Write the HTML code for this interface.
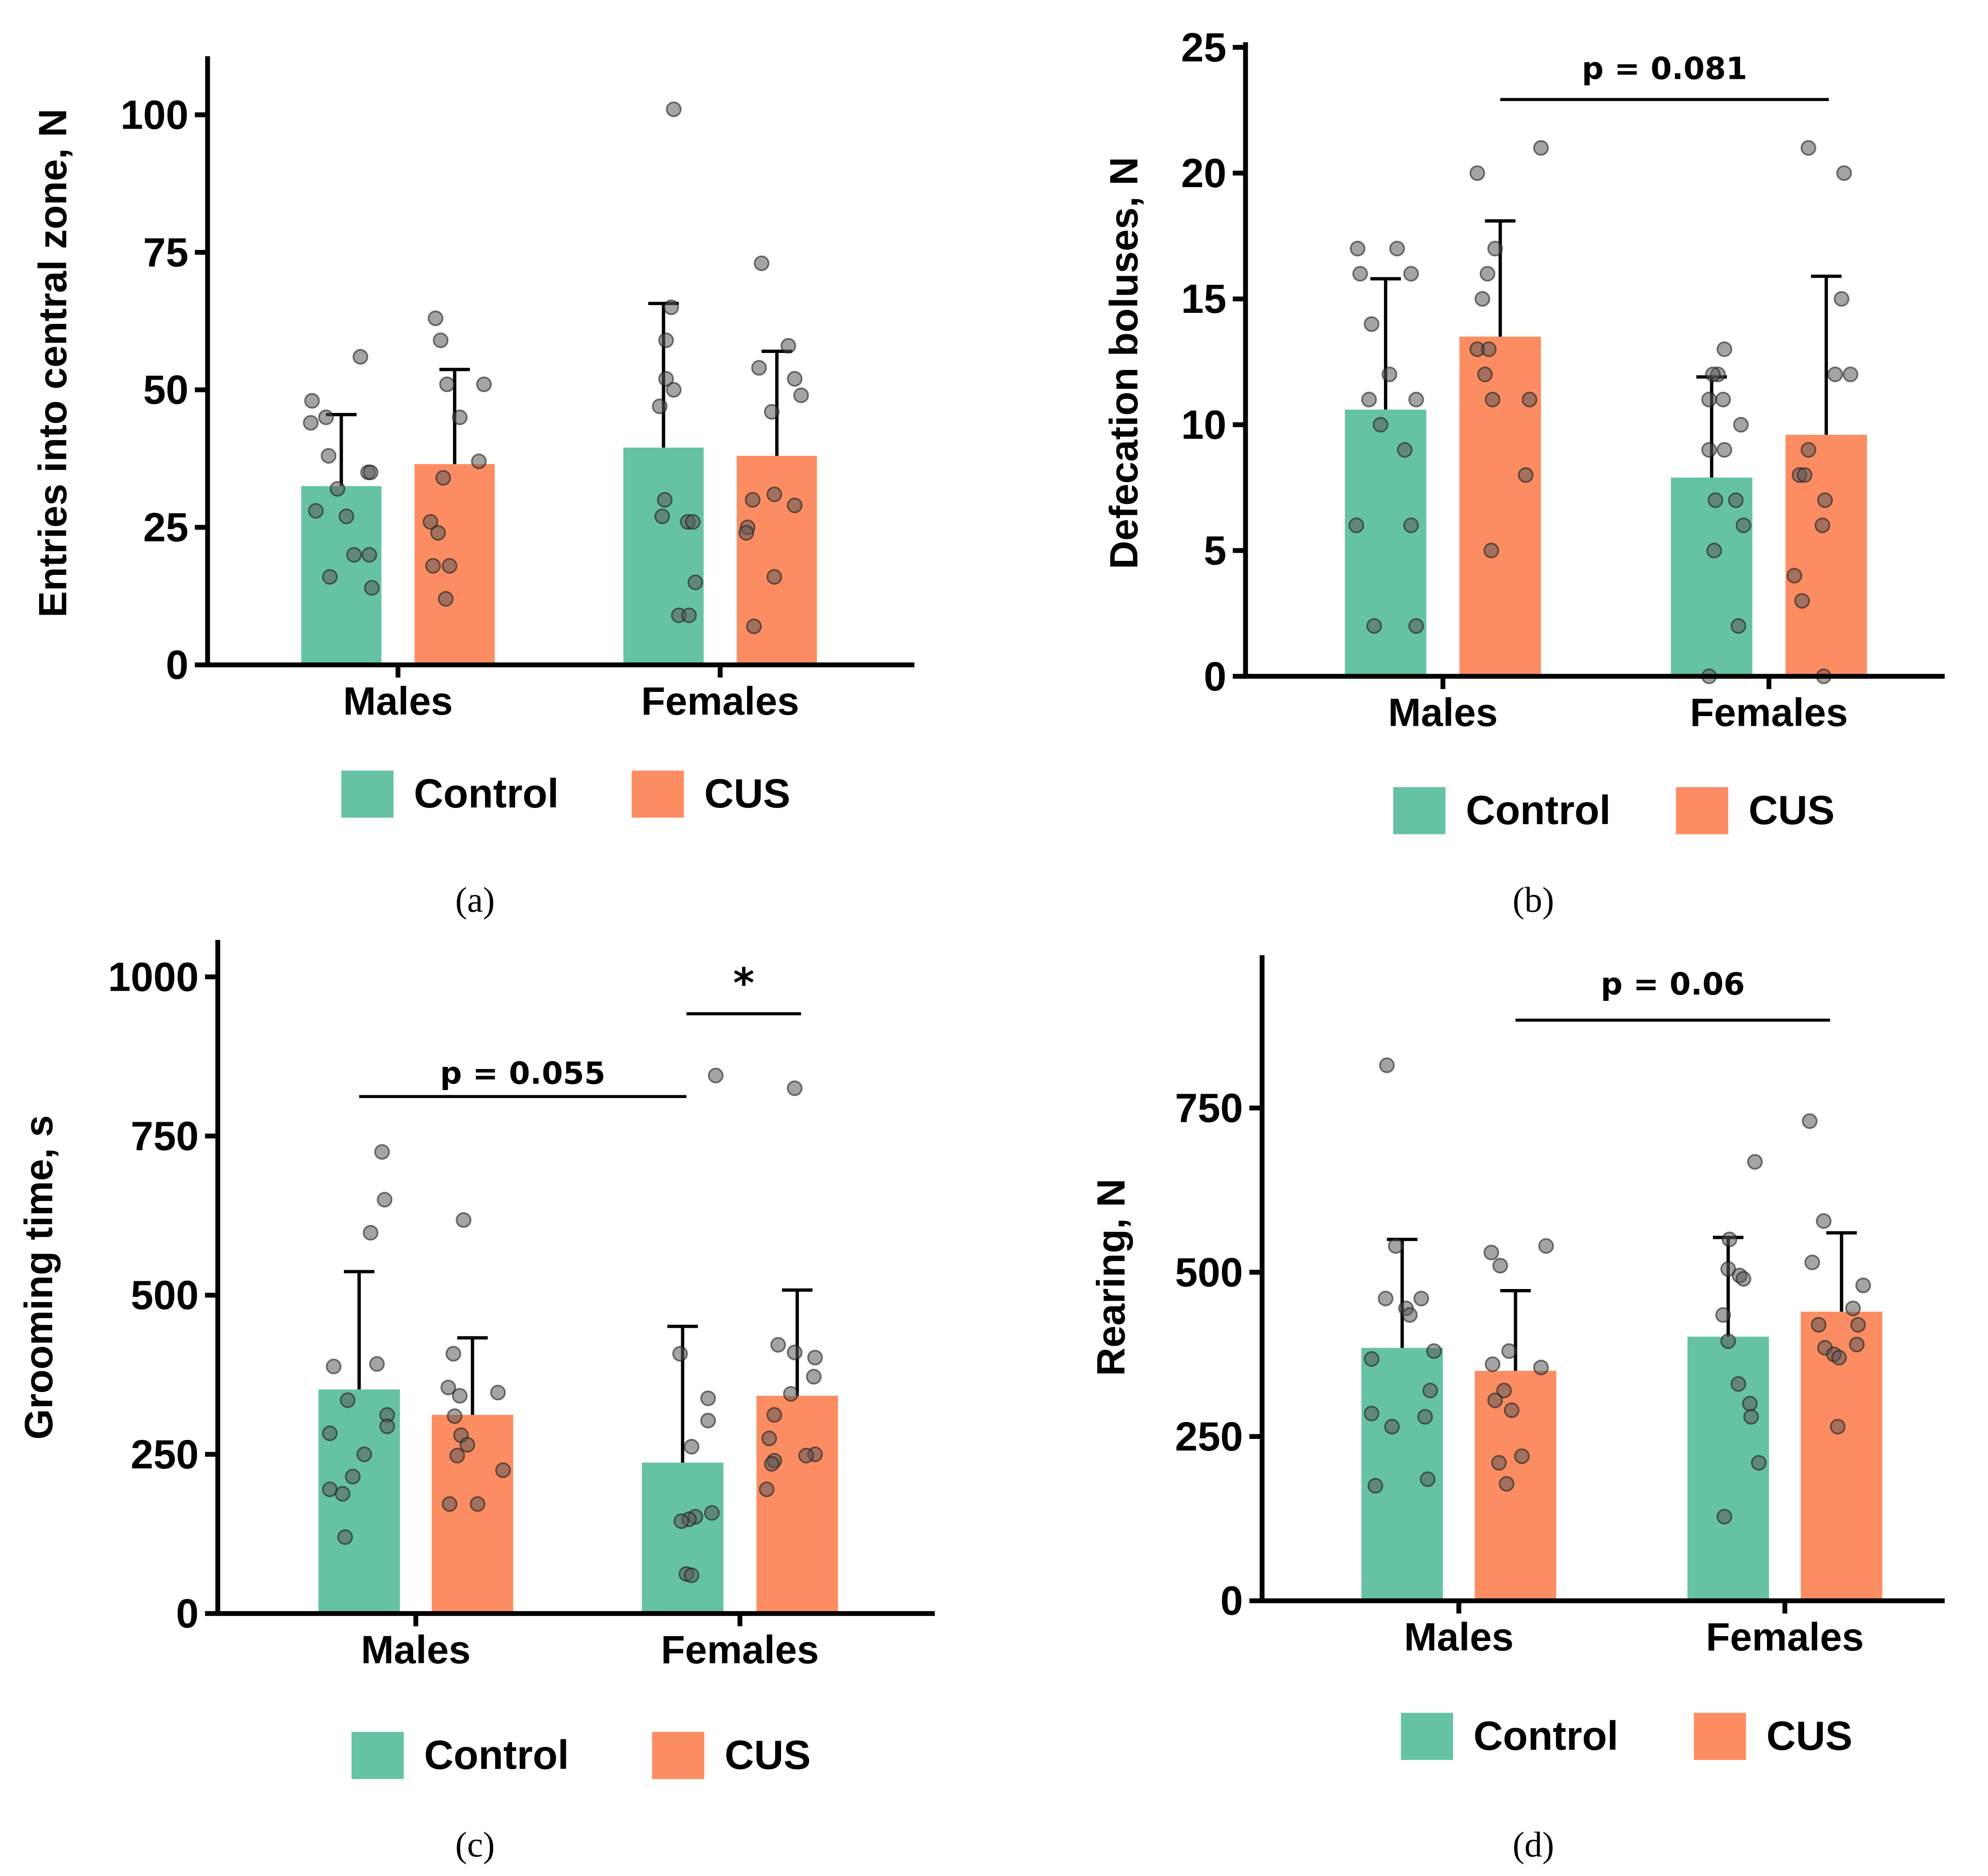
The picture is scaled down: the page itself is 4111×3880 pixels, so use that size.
<!DOCTYPE html>
<html><head><meta charset="utf-8"><style>
html,body{margin:0;padding:0;background:#fff}
svg{display:block}
text{font-family:"Liberation Sans",Arial,sans-serif;font-weight:bold;fill:#000}
.cap{font-family:"Liberation Serif",serif;font-weight:normal}
</style></head><body>
<svg id="chart" width="4111" height="3880" viewBox="0 0 1561 1473" xmlns="http://www.w3.org/2000/svg"></svg>
<script>
// ---- data ----
const groups = ["Males","Females"];
const seriesNames = ["Control","CUS"];
// panel a
const aMeans = [[32.5,36.5],[39.5,38]];
const aErr = [[45.5,53.7],[65.7,57]];
const aTicks = [0,25,50,75,100];
const aPts = [
 [[48,44,45,38,32,28,27,20,20,16,14,56,35,35],[63,59,51,51,45,37,34,26,24,18,18,12]],
 [[101,65,59,52,50,47,30,27,26,26,15,9,9],[73,58,54,52,46,49,30,31,29,25,24,16,7]]];
const aJit = [
 [[-23,-24,-12,-10,-3,-20,4,10,22,-9,24,15,21,23],[-15,-11,-6,23,4,19,-9,-19,-13,-17,-4,-7]],
 [[8,6,2,2,8,-3,1,-1,19,23,25,12,20],[-12,9,-14,14,-4,19,-19,-2,14,-23,-24,-2,-18]]];
// panel b
const bMeans = [[10.6,13.5],[7.9,9.6]];
const bErr = [[15.8,18.1],[11.9,15.9]];
const bTicks = [0,5,10,15,20,25];
const bPts = [
 [[17,17,16,16,14,12,11,11,10,9,6,6,2,2],[21,20,17,16,15,13,13,12,11,11,8,5]],
 [[13,12,12,11,11,10,9,9,7,7,6,5,2,0],[21,20,15,12,12,9,8,8,7,6,4,3,0]]];
const bJit = [
 [[-22,9,-20,20,-11,3,-13,24,-4,15,-23,20,-9,24],[32,-18,-4,-10,-14,-18,-9,-12,-6,23,20,-7]],
 [[10,5,1,9,-2,23,-2,10,3,19,25,2,21,-2],[-14,14,12,7,19,-14,-21,-17,-1,-3,-25,-19,-2]]];
// panel c
const cMeans = [[352,312],[237,342]];
const cErr = [[537,433],[451,508]];
const cTicks = [0,250,500,750,1000];
const cPts = [
 [[725,650,598,388,392,335,312,294,283,250,215,195,188,120],[618,408,355,342,347,310,280,265,248,225,172,172]],
 [[845,408,338,303,262,158,152,148,145,62,60],[825,422,410,402,372,345,312,275,250,248,240,235,195]]];
const cJit = [
 [[18,20,9,-20,14,-9,22,22,-23,4,-5,-23,-13,-11],[-7,-15,-19,-10,20,-14,-9,-4,-12,24,-18,4]],
 [[26,-2,20,20,7,23,10,5,-1,3,7],[-2,-15,-2,14,13,-5,-18,-22,14,7,-18,-20,-24]]];
// panel d
const dMeans = [[385,350],[402,440]];
const dErr = [[550,472],[553,560]];
const dTicks = [0,250,500,750];
const dPts = [
 [[815,540,460,460,445,435,368,380,320,285,280,265,185,175],[540,530,510,380,360,355,320,305,290,220,210,178]],
 [[668,550,505,495,490,435,395,330,300,280,210,128],[730,578,515,480,445,420,420,385,375,370,390,265]]];
const dJit = [
 [[-12,-5,-13,15,3,6,-24,25,22,-24,18,-8,20,-21],[24,-19,-12,-5,-18,20,-9,-16,-3,5,-13,-7]],
 [[21,1,0,9,12,-4,0,8,17,18,24,-3],[-25,-14,-23,17,9,-18,13,-13,-6,-2,12,-3]]];

const NS="http://www.w3.org/2000/svg";
const svg=document.getElementById('chart');
function mk(tag,attrs,parent,txt){const e=document.createElementNS(NS,tag);for(const k in attrs)e.setAttribute(k,attrs[k]);if(txt!==undefined)e.textContent=txt;(parent||svg).appendChild(e);return e;}
const colors=["#66c2a5","#fc8d62"];

function panel(o){
  const g=mk('g',{});
  
  
  const y=v=>o.y0-(v-0)*(o.y0-o.yTop)/(o.vTop);
  groups.forEach((gr,gi)=>{
    seriesNames.forEach((s,si)=>{
      const cx=o.centers[gi][si];
      const r=mk('rect',{x:cx-o.bw/2,y:y(o.means[gi][si]),width:o.bw,height:o.y0-y(o.means[gi][si]),fill:colors[si]},g);
      
      
      const e=mk('path',{d:`M${cx} ${y(o.means[gi][si])}V${y(o.err[gi][si])}M${cx-12} ${y(o.err[gi][si])}H${cx+12}`,stroke:'#000','stroke-width':2.6,fill:'none'},g);
      
      
      o.pts[gi][si].forEach((v,pi)=>{
        const c=mk('circle',{cx:cx+o.jit[gi][si][pi],cy:y(v),r:5.5,fill:'rgba(90,90,90,0.55)',stroke:'rgba(30,30,30,0.6)','stroke-width':1.3},g);
        
        
      });
    });
  });
  const ax=mk('path',{d:`M${o.ax} ${o.axTop}V${o.y0}H${o.xEnd}`,stroke:'#000','stroke-width':3.8,fill:'none'},g);
  
  
  o.ticks.forEach(t=>{
    mk('line',{x1:o.ax-10,x2:o.ax,y1:y(t),y2:y(t),stroke:'#000','stroke-width':3.8},g);
    const tl=mk('text',{x:o.ax-15,y:y(t)+11,'text-anchor':'end','font-size':32},g,t);
    
    
  });
  groups.forEach((gr,gi)=>{
    const c=(o.centers[gi][0]+o.centers[gi][1])/2;
    mk('line',{x1:c,x2:c,y1:o.y0,y2:o.y0+10,stroke:'#000','stroke-width':3.8},g);
    const xl=mk('text',{x:c,y:o.y0+39,'text-anchor':'middle','font-size':31},g,gr);
    
    
  });
  const yt=mk('text',{transform:`translate(${o.ytx},${o.yty}) rotate(-90)`,'text-anchor':'middle','font-size':31},g,o.ytitle);
  
  
  seriesNames.forEach((s,si)=>{
    const lg=mk('g',{},g);
    
    
    mk('rect',{x:o.leg[si],y:o.legY-18,width:41,height:37,fill:colors[si]},lg);
    mk('text',{x:o.leg[si]+57,y:o.legY+11,'font-size':32},lg,s);
  });
  const cap=mk('text',{x:o.capX,y:o.capY,'text-anchor':'middle','font-size':28,class:'cap'},g,o.cap);
  
  
  (o.ann||[]).forEach(a=>{
    const ag=mk('g',{},g);
    
    
    mk('line',{x1:a.x1,x2:a.x2,y1:a.y,y2:a.y,stroke:'#000','stroke-width':2.4},ag);
    mk('text',{x:(a.x1+a.x2)/2,y:a.ty,'text-anchor':'middle','font-size':a.fs||24,style:'font-family:"DejaVu Sans",sans-serif'},ag,a.t);
  });
}
panel({name:'panel-a',means:aMeans,err:aErr,pts:aPts,jit:aJit,ticks:aTicks,ax:163,axTop:44,y0:522,yTop:90,vTop:100,xEnd:718,
  centers:[[268,357],[521,610]],bw:63,ytitle:'Entries into central zone, N',ytx:52,yty:285,leg:[268,496],legY:623,cap:'(a)',capX:373,capY:716});
panel({name:'panel-b',means:bMeans,err:bErr,pts:bPts,jit:bJit,ticks:bTicks,ax:978,axTop:33,y0:531,yTop:37,vTop:25,xEnd:1527,
  centers:[[1088,1178],[1344,1434]],bw:64,ytitle:'Defecation boluses, N',ytx:893,yty:285,leg:[1094,1316],legY:636,cap:'(b)',capX:1204,capY:716,
  ann:[{x1:1178,x2:1436,y:78,ty:62,t:'p = 0.081'}]});
panel({name:'panel-c',means:cMeans,err:cErr,pts:cPts,jit:cJit,ticks:cTicks,ax:171,axTop:738,y0:1267,yTop:767,vTop:1000,xEnd:734,
  centers:[[282,371],[536,626]],bw:64,ytitle:'Grooming time, s',ytx:41,yty:1003,leg:[276,512],legY:1378,cap:'(c)',capX:373,capY:1458,
  ann:[{x1:282,x2:539,y:861,ty:851,t:'p = 0.055'},{x1:539,x2:629,y:796,ty:783,t:'*',fs:32}]});
panel({name:'panel-d',means:dMeans,err:dErr,pts:dPts,jit:dJit,ticks:dTicks,ax:991,axTop:750,y0:1257,yTop:870,vTop:750,xEnd:1527,
  centers:[[1101,1190],[1357,1446]],bw:64,ytitle:'Rearing, N',ytx:883,yty:1003,leg:[1100,1330],legY:1363,cap:'(d)',capX:1204,capY:1458,
  ann:[{x1:1190,x2:1437,y:801,ty:781,t:'p = 0.06'}]});
</script>
</body></html>
